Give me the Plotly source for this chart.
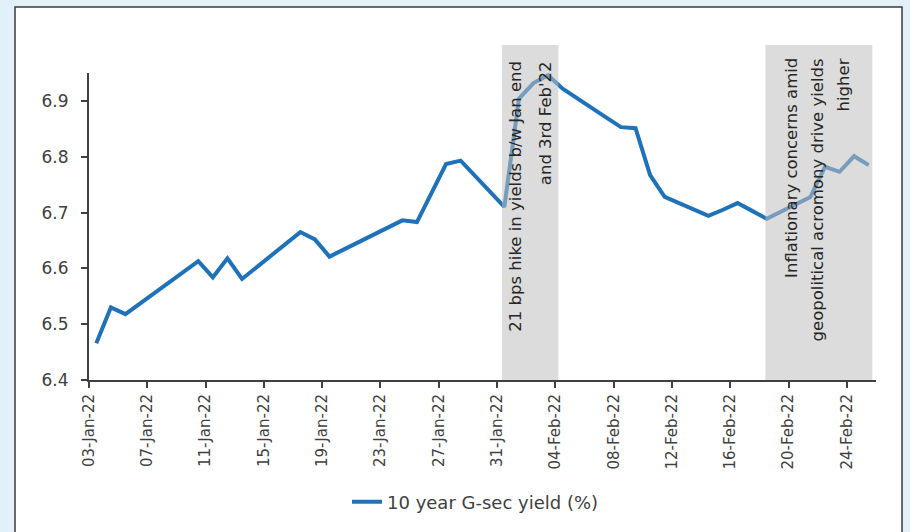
import pandas as pd
import plotly.graph_objects as go

# ---- data ----
dates = ["2022-01-03", "2022-01-04", "2022-01-05", "2022-01-06", "2022-01-07",
         "2022-01-10", "2022-01-11", "2022-01-12", "2022-01-13", "2022-01-14",
         "2022-01-17", "2022-01-18", "2022-01-19", "2022-01-20", "2022-01-21",
         "2022-01-24", "2022-01-25", "2022-01-27", "2022-01-28",
         "2022-01-31", "2022-02-01", "2022-02-02", "2022-02-03", "2022-02-04",
         "2022-02-07", "2022-02-08", "2022-02-09", "2022-02-10", "2022-02-11",
         "2022-02-14", "2022-02-15", "2022-02-16", "2022-02-17", "2022-02-18",
         "2022-02-21", "2022-02-22", "2022-02-23", "2022-02-24", "2022-02-25"]
yield_10y = [6.466, 6.530, 6.518, 6.537, 6.556,
             6.613, 6.584, 6.618, 6.581, 6.602,
             6.665, 6.652, 6.621, 6.634, 6.647,
             6.686, 6.683, 6.787, 6.793,
             6.710, 6.904, 6.932, 6.946, 6.922,
             6.870, 6.853, 6.851, 6.767, 6.728,
             6.694, 6.705, 6.717, 6.703, 6.689,
             6.728, 6.782, 6.773, 6.801, 6.785]
series_name = "10 year G-sec yield (%)"

# highlighted periods and their notes
band1 = ("2022-01-31 08:00", "2022-02-04 05:00")
band1_lines = ["21 bps hike in yields b/w Jan end", "and 3rd Feb'22"]
band2 = ("2022-02-18 10:00", "2022-02-25 18:00")
band2_lines = ["Inflationary concerns amid", "geopolitical acromony drive yields", "higher"]

y_min, y_max, band_top = 6.4, 6.95, 7.0
x_start, x_end = "2022-01-03", "2022-02-26"

FONT = "DejaVu Sans"
# Excel date axis: points sit in the middle of each day slot
x_vals = pd.to_datetime(dates) + pd.Timedelta(hours=12)

fig = go.Figure()
fig.add_trace(go.Scatter(
    x=x_vals, y=yield_10y, mode="lines", name=series_name,
    line=dict(color="#1f72b8", width=4), showlegend=True))

L, R, T, B = 89, 34, 73, 152
W, H = 910, 532
pw, ph = W - L - R, H - T - B

def px_to_paper_x(px):
    return (px - L) / pw

def px_to_paper_y(py):
    return (H - B - py) / ph

shapes = []
# outer white panel
shapes.append(dict(type="rect", xref="paper", yref="paper",
                   x0=px_to_paper_x(15), x1=px_to_paper_x(902),
                   y0=px_to_paper_y(545), y1=px_to_paper_y(7),
                   fillcolor="white", line=dict(color="#3a3a3a", width=1.5),
                   layer="below"))
band_y1 = (band_top - y_min) / (y_max - y_min)
for b in (band1, band2):
    shapes.append(dict(type="rect", xref="x", yref="paper",
                       x0=b[0], x1=b[1], y0=0, y1=band_y1,
                       fillcolor="rgba(191,191,191,0.55)", line=dict(width=0),
                       layer="above"))

annotations = []
def band_center(b):
    t0, t1 = pd.Timestamp(b[0]), pd.Timestamp(b[1])
    return t0 + (t1 - t0) / 2

for b, lines, shifts, ytop in ((band1, band1_lines, [-15, 15], 59),
                               (band2, band2_lines, [-28, -1, 25], 56)):
    c = band_center(b)
    for txt, s in zip(lines, shifts):
        annotations.append(dict(
            x=c, y=px_to_paper_y(ytop), xref="x", yref="paper",
            text=txt, showarrow=False, textangle=-90,
            xanchor="center", yanchor="top", xshift=s,
            font=dict(family=FONT, size=16.5, color="#262626")))

fig.update_layout(
    width=W, height=H,
    margin=dict(l=L, r=R, t=T, b=B),
    paper_bgcolor="#e2f0fa",
    plot_bgcolor="rgba(0,0,0,0)",
    shapes=shapes,
    annotations=annotations,
    font=dict(family=FONT, color="#404040"),
    showlegend=True,
    legend=dict(orientation="h", x=px_to_paper_x(347), xanchor="left",
                y=px_to_paper_y(502), yanchor="middle",
                font=dict(family=FONT, size=18, color="#404040"),
                bgcolor="rgba(0,0,0,0)"),
    xaxis=dict(
        type="date",
        range=[x_start, x_end],
        tick0=x_start, dtick=4 * 86400000,
        tickformat="%d-%b-%y", tickangle=-90,
        ticks="outside", ticklen=6, tickwidth=2, tickcolor="#404040",
        showline=True, linecolor="#404040", linewidth=2,
        showgrid=False, zeroline=False,
        tickfont=dict(family=FONT, size=15, color="#404040"),
    ),
    yaxis=dict(
        range=[y_min, y_max],
        tick0=6.4, dtick=0.1, tickformat=".1f",
        ticks="outside", ticklen=6, tickwidth=2, tickcolor="#404040",
        showline=True, linecolor="#404040", linewidth=2,
        showgrid=False, zeroline=False,
        ticklabelstandoff=9,
        tickfont=dict(family=FONT, size=17, color="#404040"),
    ),
)

fig.write_html("out.html")
